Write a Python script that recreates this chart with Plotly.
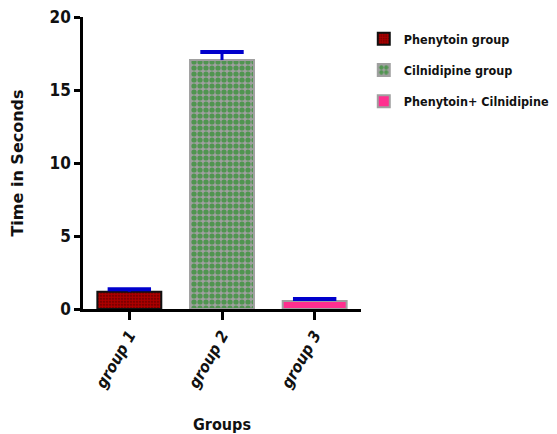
import plotly.graph_objects as go

groups = ["group 1", "group 2", "group 3"]
series_names = ["Phenytoin group", "Cilnidipine group", "Phenytoin+ Cilnidipine"]
means = [1.18, 17.05, 0.55]
errors = [0.18, 0.55, 0.13]
y_ticks = [0, 5, 10, 15, 20]

FONT = "DejaVu Sans Condensed, Liberation Sans Narrow, Arial Narrow, Liberation Sans"
FONT_WIDE = "DejaVu Sans, Liberation Sans"

styles = [
    dict(bg="#5a0000", fg="#ff0000", shape=".", line="#111111", size=3, sol=0.75),
    dict(bg="#a0a0a0", fg="#008a00", shape=".", line="#a0a0a0", size=6, sol=0.6),
    dict(bg="#ff2f8f", fg="#ff2f8f", shape="", line="#a0a0a0", size=6, sol=0.5),
]

fig = go.Figure()
for i, g in enumerate(groups):
    s = styles[i]
    fig.add_trace(go.Bar(
        x=[g], y=[means[i]], name=series_names[i], width=0.69, legendgroup=str(i),
        marker=dict(color=s["bg"], line=dict(color=s["line"], width=2),
                    pattern=dict(shape=s["shape"], fgcolor=s["fg"], bgcolor=s["bg"],
                                 size=s["size"], solidity=s["sol"], fillmode="overlay")),
    ))

# upper-only error bars (stem + single cap), derived from the data arrays
stem_x, stem_y = [], []
for g, m, e in zip(groups, means, errors):
    stem_x += [g, g, None]
    stem_y += [m, m + e, None]
fig.add_trace(go.Scatter(x=stem_x, y=stem_y, mode="lines", showlegend=False,
                         line=dict(color="#0000cc", width=3), hoverinfo="skip"))
fig.add_trace(go.Scatter(x=groups, y=[m + e for m, e in zip(means, errors)], mode="markers",
                         showlegend=False, hoverinfo="skip",
                         marker=dict(symbol="line-ew", size=31,
                                     line=dict(color="#0000cc", width=4))))

fig.update_layout(
    width=549, height=426, barmode="overlay",
    margin=dict(l=75, r=196, t=9, b=125, autoexpand=False),
    plot_bgcolor="white", paper_bgcolor="white",
    font=dict(family=FONT, color="#111111"),
    legend=dict(x=1.01, y=0.976, xanchor="left", yanchor="top",
                font=dict(size=12.5, family=FONT, weight="bold"),
                tracegroupgap=12, itemwidth=30),
    xaxis=dict(range=[-0.5, 2.5], showline=True, linecolor="black", linewidth=2.5,
               ticks="outside", ticklen=8, tickwidth=2.5, tickcolor="black", automargin=False,
               tickangle=-60, tickfont=dict(size=16, family=FONT, weight="bold", style="italic"),
               title=dict(text="Groups", font=dict(size=16, family=FONT, weight="bold"), standoff=31)),
    yaxis=dict(range=[0, 20], tickvals=y_ticks, showline=True, linecolor="black", linewidth=2.5,
               ticks="outside", ticklen=6, tickwidth=2.5, tickcolor="black", showgrid=False,
               zeroline=False, automargin=False, ticklabeloverflow="allow",
               tickfont=dict(size=17, family=FONT, weight="bold"),
               title=dict(text="Time in Seconds", font=dict(size=16, family=FONT_WIDE, weight="bold"), standoff=22)),
)

fig.write_html("out.html")
